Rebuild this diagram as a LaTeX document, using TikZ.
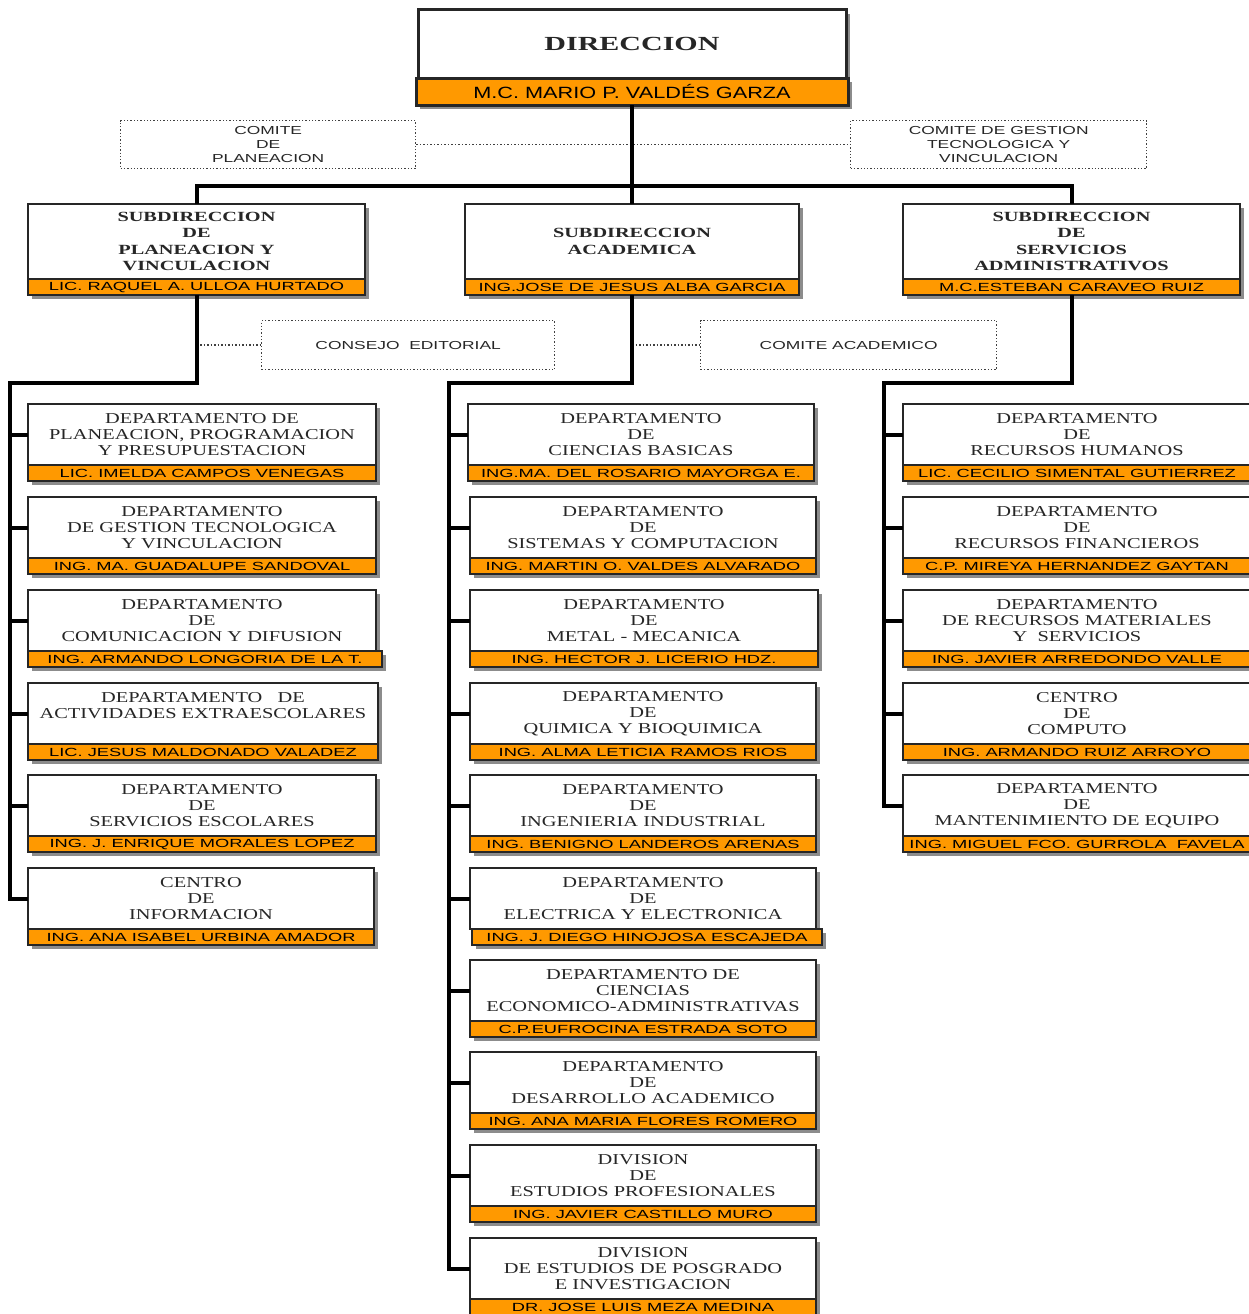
\documentclass[tikz,border=0pt]{standalone}
\usepackage{fontspec}
\setmainfont{Liberation Serif}
\newfontfamily\deptfont{Liberation Serif}[FakeStretch=1.35]
\newfontfamily\subdirfont{Liberation Serif}[FakeStretch=1.45]
\newfontfamily\dirfont{Liberation Serif}[FakeStretch=1.5]
\newfontfamily\personfont{Liberation Sans}[FakeStretch=1.55]
\newfontfamily\jefefont{Liberation Sans}[FakeStretch=1.33]
\newfontfamily\comitefont{Liberation Sans}[FakeStretch=1.5]
\usetikzlibrary{shadows}
\definecolor{naranja}{HTML}{FF9900}

\begin{document}
\begin{tikzpicture}[x=1pt, y=-1pt,
    sombra/.style={drop shadow={shadow xshift=4pt, shadow yshift=-4pt, fill=black!45, opacity=1}},
    caja/.style={draw=black!85, line width=1.5pt, fill=white, sombra, anchor=north west, inner sep=0pt, outer sep=0pt, align=center, text=black!85},
    deptbox/.style={caja, minimum height=61, font=\deptfont\fontsize{15.1}{16}\selectfont},
    subbox/.style={caja, minimum height=75, font=\subdirfont\bfseries\fontsize{14}{16.3}\selectfont},
    namebar/.style={draw=black!85, line width=1.5pt, fill=naranja, sombra, anchor=north west, inner sep=0pt, outer sep=0pt, minimum height=16, font=\personfont\fontsize{11.8}{12}\selectfont},
    comitebox/.style={draw=black!75, dotted, line width=1.3pt, anchor=north west, inner sep=0pt, align=center, minimum height=48, text=black!85, font=\comitefont\fontsize{11.6}{14}\selectfont},
    enlace/.style={line width=4pt},
    punteado/.style={dotted, line width=1.5pt, black!75}]
      \useasboundingbox (0,0) rectangle (1249,1314);
      \clip (0,0) rectangle (1249,1314);

      % direccion
      \node[caja, line width=3pt, minimum width=428, minimum height=68, font=\dirfont\bfseries\fontsize{20}{24}\selectfont] (dir) at (418,10) {DIRECCION};
      \node[namebar, line width=3pt, minimum width=432, minimum height=27, font=\jefefont\fontsize{16.3}{18}\selectfont] (dirn) at ([xshift=-2pt]dir.south west) {M.C. MARIO P. VALDÉS GARZA};

      % comites
      \node[comitebox, minimum width=295] (cpl) at (120,120) {COMITE\\DE\\PLANEACION};
      \node[comitebox, minimum width=296] (cgt) at (850,120) {COMITE DE GESTION\\TECNOLOGICA Y\\VINCULACION};
      \node[comitebox, minimum width=293, minimum height=49] (ce) at (261,320) {CONSEJO~~EDITORIAL};
      \node[comitebox, minimum width=296, minimum height=49] (ca) at (700,320) {COMITE ACADEMICO};

      % subdirecciones
      \node[subbox, minimum width=337] (spv) at (28,204) {SUBDIRECCION\\DE\\PLANEACION Y\\VINCULACION};
      \node[namebar, minimum width=337] (spvn) at (spv.south west) {LIC. RAQUEL A. ULLOA HURTADO};
      \node[subbox, minimum width=334] (sac) at (465,204) {SUBDIRECCION\\ACADEMICA};
      \node[namebar, minimum width=334] (sacn) at (sac.south west) {ING.JOSE DE JESUS ALBA GARCIA};
      \node[subbox, minimum width=337] (ssa) at (903,204) {SUBDIRECCION\\DE\\SERVICIOS\\ADMINISTRATIVOS};
      \node[namebar, minimum width=337] (ssan) at (ssa.south west) {M.C.ESTEBAN CARAVEO RUIZ};

      % planeacion y vinculacion
      \node[deptbox, minimum width=348] (pp) at (28,404) {DEPARTAMENTO DE\\PLANEACION, PROGRAMACION\\Y PRESUPUESTACION};
      \node[namebar, minimum width=348] (ppn) at (pp.south west) {LIC. IMELDA CAMPOS VENEGAS};
      \node[deptbox, minimum width=348] (gt) at (28,497) {DEPARTAMENTO\\DE GESTION TECNOLOGICA\\Y VINCULACION};
      \node[namebar, minimum width=348] (gtn) at (gt.south west) {ING. MA. GUADALUPE SANDOVAL};
      \node[deptbox, minimum width=348] (cd) at (28,590) {DEPARTAMENTO\\DE\\COMUNICACION Y DIFUSION};
      \node[namebar, minimum width=354] (cdn) at (cd.south west) {ING. ARMANDO LONGORIA DE LA T.};
      \node[deptbox, minimum width=350] (ae) at (28,683) {DEPARTAMENTO~~~DE\\ACTIVIDADES EXTRAESCOLARES\\\mbox{}};
      \node[namebar, minimum width=350] (aen) at (ae.south west) {LIC. JESUS MALDONADO VALADEZ};
      \node[deptbox, minimum width=348] (se) at (28,775) {DEPARTAMENTO\\DE\\SERVICIOS ESCOLARES};
      \node[namebar, minimum width=348] (sen) at (se.south west) {ING. J. ENRIQUE MORALES LOPEZ};
      \node[deptbox, minimum width=346] (ci) at (28,868) {CENTRO\\DE\\INFORMACION};
      \node[namebar, minimum width=346] (cin) at (ci.south west) {ING. ANA ISABEL URBINA AMADOR};

      % academica
      \node[deptbox, minimum width=346] (cb) at (468,404) {DEPARTAMENTO\\DE\\CIENCIAS BASICAS};
      \node[namebar, minimum width=346] (cbn) at (cb.south west) {ING.MA. DEL ROSARIO MAYORGA E.};
      \node[deptbox, minimum width=346] (sc) at (470,497) {DEPARTAMENTO\\DE\\SISTEMAS Y COMPUTACION};
      \node[namebar, minimum width=346] (scn) at (sc.south west) {ING. MARTIN O. VALDES ALVARADO};
      \node[deptbox, minimum width=348] (mm) at (470,590) {DEPARTAMENTO\\DE\\METAL - MECANICA};
      \node[namebar, minimum width=348] (mmn) at (mm.south west) {ING. HECTOR J. LICERIO HDZ.};
      \node[deptbox, minimum width=346] (qb) at (470,683) {DEPARTAMENTO\\DE\\QUIMICA Y BIOQUIMICA};
      \node[namebar, minimum width=346] (qbn) at (qb.south west) {ING. ALMA LETICIA RAMOS RIOS};
      \node[deptbox, minimum width=346] (ii) at (470,775) {DEPARTAMENTO\\DE\\INGENIERIA INDUSTRIAL};
      \node[namebar, minimum width=346] (iin) at (ii.south west) {ING. BENIGNO LANDEROS ARENAS};
      \node[deptbox, minimum width=346] (ee) at (470,868) {DEPARTAMENTO\\DE\\ELECTRICA Y ELECTRONICA};
      \node[namebar, minimum width=350] (een) at ([xshift=2pt]ee.south west) {ING. J. DIEGO HINOJOSA ESCAJEDA};
      \node[deptbox, minimum width=346] (ea) at (470,960) {DEPARTAMENTO DE\\CIENCIAS\\ECONOMICO-ADMINISTRATIVAS};
      \node[namebar, minimum width=346] (ean) at (ea.south west) {C.P.EUFROCINA ESTRADA SOTO};
      \node[deptbox, minimum width=346] (da) at (470,1052) {DEPARTAMENTO\\DE\\DESARROLLO ACADEMICO};
      \node[namebar, minimum width=346] (dan) at (da.south west) {ING. ANA MARIA FLORES ROMERO};
      \node[deptbox, minimum width=346] (ep) at (470,1145) {DIVISION\\DE\\ESTUDIOS PROFESIONALES};
      \node[namebar, minimum width=346] (epn) at (ep.south west) {ING. JAVIER CASTILLO MURO};
      \node[deptbox, minimum width=346] (pg) at (470,1238) {DIVISION\\DE ESTUDIOS DE POSGRADO\\E INVESTIGACION};
      \node[namebar, minimum width=346] (pgn) at (pg.south west) {DR. JOSE LUIS MEZA MEDINA};

      % servicios administrativos
      \node[deptbox, minimum width=348] (rh) at (903,404) {DEPARTAMENTO\\DE\\RECURSOS HUMANOS};
      \node[namebar, minimum width=348] (rhn) at (rh.south west) {LIC. CECILIO SIMENTAL GUTIERREZ};
      \node[deptbox, minimum width=348] (rf) at (903,497) {DEPARTAMENTO\\DE\\RECURSOS FINANCIEROS};
      \node[namebar, minimum width=348] (rfn) at (rf.south west) {C.P. MIREYA HERNANDEZ GAYTAN};
      \node[deptbox, minimum width=348] (rm) at (903,590) {DEPARTAMENTO\\DE RECURSOS MATERIALES\\Y~~SERVICIOS};
      \node[namebar, minimum width=348] (rmn) at (rm.south west) {ING. JAVIER ARREDONDO VALLE};
      \node[deptbox, minimum width=348] (cc) at (903,683) {CENTRO\\DE\\COMPUTO};
      \node[namebar, minimum width=348] (ccn) at (cc.south west) {ING. ARMANDO RUIZ ARROYO};
      \node[deptbox, minimum width=348] (me) at (903,775) {DEPARTAMENTO\\DE\\MANTENIMIENTO DE EQUIPO};
      \node[namebar, minimum width=348] (men) at (me.south west) {ING. MIGUEL FCO. GURROLA~~FAVELA};

      % lineas punteadas
      \draw[punteado] (cpl.east) -- (cgt.west);
      \draw[punteado] (spvn.south |- ce.west) -- (ce.west);
      \draw[punteado] (sacn.south |- ca.west) -- (ca.west);

      % lineas de mando
      \coordinate (bus) at (0,186);
      \coordinate (codo1) at (10,383);
      \coordinate (codo2) at (449,383);
      \coordinate (codo3) at (884,383);
      \draw[enlace] (dirn.south) -- (dirn.south |- sac.north);
      \draw[enlace] (spv.north) -- (spv.north |- bus) -- (ssa.north |- bus) -- (ssa.north);
      \draw[enlace] (spvn.south) |- (codo1) |- (ci.west);
      \draw[enlace] (sacn.south) |- (codo2) |- (pg.west);
      \draw[enlace] (ssan.south) |- (codo3) |- (me.west);
      \draw[enlace] (codo1 |- pp.west) -- (pp.west);
      \draw[enlace] (codo1 |- gt.west) -- (gt.west);
      \draw[enlace] (codo1 |- cd.west) -- (cd.west);
      \draw[enlace] (codo1 |- ae.west) -- (ae.west);
      \draw[enlace] (codo1 |- se.west) -- (se.west);
      \draw[enlace] (codo2 |- cb.west) -- (cb.west);
      \draw[enlace] (codo2 |- sc.west) -- (sc.west);
      \draw[enlace] (codo2 |- mm.west) -- (mm.west);
      \draw[enlace] (codo2 |- qb.west) -- (qb.west);
      \draw[enlace] (codo2 |- ii.west) -- (ii.west);
      \draw[enlace] (codo2 |- ee.west) -- (ee.west);
      \draw[enlace] (codo2 |- ea.west) -- (ea.west);
      \draw[enlace] (codo2 |- da.west) -- (da.west);
      \draw[enlace] (codo2 |- ep.west) -- (ep.west);
      \draw[enlace] (codo3 |- rh.west) -- (rh.west);
      \draw[enlace] (codo3 |- rf.west) -- (rf.west);
      \draw[enlace] (codo3 |- rm.west) -- (rm.west);
      \draw[enlace] (codo3 |- cc.west) -- (cc.west);
\end{tikzpicture}
\end{document}
